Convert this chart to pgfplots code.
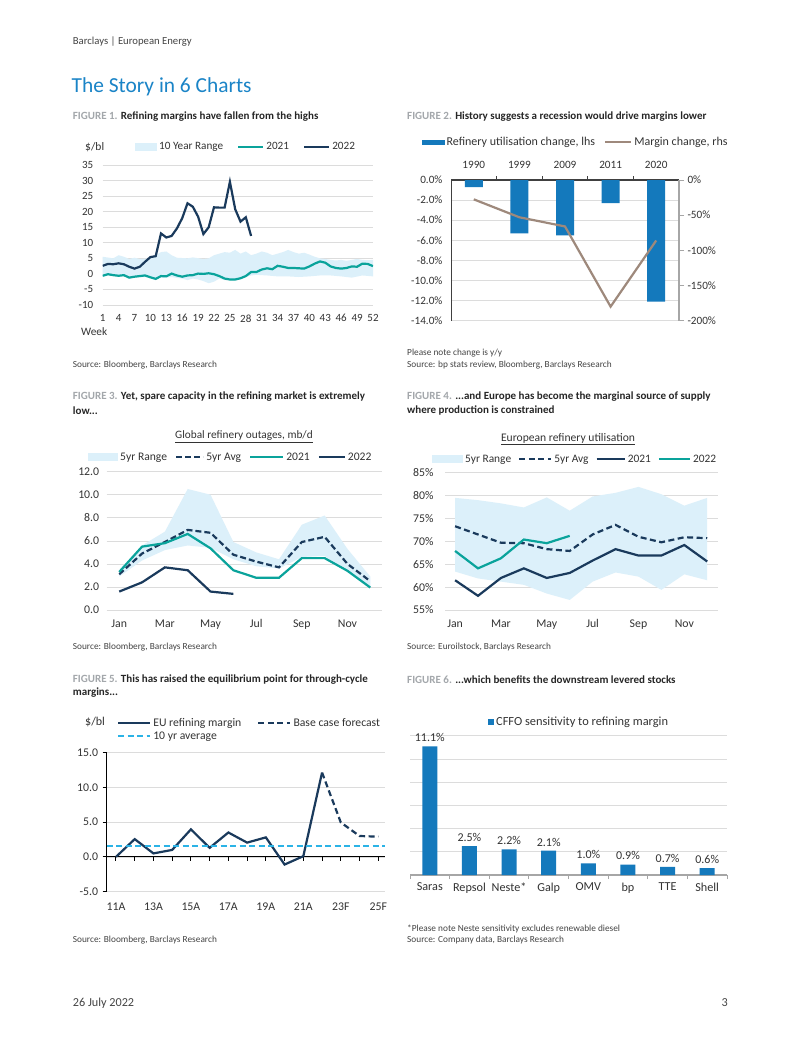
\documentclass[border=0pt]{standalone}
\usepackage{fontspec}
\setmainfont{Carlito}
\usepackage{pgfplots}
\pgfplotsset{compat=1.18}
\usepackage{pgfplotstable}

\definecolor{navy}{HTML}{1A3A5C}
\definecolor{teal}{HTML}{0AA39B}
\definecolor{rangec}{HTML}{DCF0FA}
\definecolor{barc}{HTML}{1479BC}
\definecolor{brownc}{HTML}{9E897C}
\definecolor{ltblue}{HTML}{2BB3E6}
\definecolor{titleblue}{HTML}{1A84C7}
\definecolor{capgray}{HTML}{A3A7AB}
\definecolor{captext}{HTML}{262626}
\definecolor{tickc}{HTML}{333333}
\definecolor{gridc}{HTML}{DCDCDC}
\definecolor{axgray}{HTML}{A6A6A6}
\definecolor{axdark}{HTML}{404040}
\definecolor{srcc}{HTML}{444444}

\newcommand{\fs}[1]{\fontsize{#1bp}{\dimexpr #1bp*12/10\relax}\selectfont}

\pgfplotsset{
  base/.style={scale only axis, anchor=south west,
    axis line style={draw=none}, major tick length=0pt,
    ymajorgrids, grid style={gridc, line width=0.7bp},
    tick label style={font=\fs{11.3}, text=tickc},
    /pgf/number format/assume math mode=true,
    legend style={draw=none, fill=none, inner sep=0pt, legend columns=-1,
      font=\fs{11.5}, text=tickc,
      /tikz/every even column/.append style={column sep=14bp}},
    legend cell align=left},
  lineLeg/.style={legend image code/.code={\draw[##1] (0bp,0bp) -- (#1,0bp);}},
  areaLeg/.style 2 args={legend image code/.code={\fill[##1] (0bp,-#2) rectangle (#1,#2);}},
}

% ---------- data ----------
\pgfplotstableread{
w v
1 2.6
2 3.2
3 3.1
4 3.4
5 3.1
6 2.3
7 1.7
8 2.3
9 3.9
10 5.4
11 5.7
12 13.0
13 11.7
14 12.2
15 14.6
16 17.9
17 22.7
18 21.6
19 18.4
20 12.8
21 15.0
22 21.4
23 21.3
24 21.3
25 29.6
26 20.8
27 16.8
28 18.2
29 12.2
}\figAtwoo
\pgfplotstableread{
w v
1 -0.6
2 -0.1
3 -0.4
4 -0.6
5 -0.4
6 -1.2
7 -0.9
8 -0.7
9 -0.5
10 -1.1
11 -1.6
12 -0.7
13 -0.8
14 0.1
15 -0.5
16 -0.9
17 -0.5
18 -0.4
19 0.1
20 0.0
21 0.2
22 -0.1
23 -0.7
24 -1.5
25 -1.8
26 -1.8
27 -1.4
28 -0.7
29 0.6
30 0.6
31 1.4
32 1.8
33 1.5
34 2.6
35 2.3
36 1.9
37 1.9
38 1.8
39 1.7
40 2.4
41 3.3
42 4.0
43 3.6
44 2.4
45 1.9
46 1.7
47 1.9
48 2.4
49 2.3
50 3.3
51 3.2
52 2.5
}\figAtwoa
\pgfplotstableread{
w v
1 5.5
3 5.0
4 6.0
5 5.5
6 4.8
7 5.2
8 4.8
10 5.0
11 6.0
12 7.0
13 7.2
14 6.0
15 5.2
17 5.0
18 5.3
20 4.8
21 5.0
22 6.0
23 6.5
24 7.0
25 6.8
26 7.7
27 6.5
28 7.2
29 6.0
30 6.5
31 7.2
32 6.8
33 6.0
34 6.5
35 7.0
36 7.7
37 7.0
38 6.5
39 6.8
40 6.2
41 5.5
42 5.0
43 4.8
44 4.5
45 4.3
46 4.5
47 4.2
48 4.5
49 4.8
50 4.5
51 4.4
52 4.5
52 -0.8
50 -0.5
48 -1.2
46 -0.8
44 -0.5
42 -0.5
40 -0.8
38 -1.0
36 -0.8
34 -0.8
32 -0.5
30 -0.3
29 -0.5
28 -1.0
27 -1.8
26 -2.0
25 -2.0
24 -2.0
23 -1.5
22 -2.5
21 -3.0
20 -2.3
19 -1.8
18 -1.5
17 -2.0
16 -1.5
15 -1.3
14 -1.0
13 -1.2
12 -1.2
11 -1.8
10 -1.3
9 -1.0
8 -1.0
7 -1.2
6 -1.4
5 -0.8
4 -0.8
3 -0.7
2 -0.5
1 -0.8
}\figArange

\pgfplotstableread{
x util margin
0 -0.7 -27.5
1 -5.3 -53
2 -5.5 -66
3 -2.3 -180
4 -12.1 -86
}\figB

\pgfplotstableread{
m avg y21
1 3.1 3.3
2 4.9 5.5
3 5.9 5.8
4 6.95 6.6
5 6.7 5.35
6 4.8 3.45
7 4.2 2.8
8 3.7 2.8
9 5.9 4.5
10 6.35 4.5
11 4.0 3.4
12 2.5 1.95
}\figC
\pgfplotstableread{
m v
1 1.6
2 2.4
3 3.7
4 3.45
5 1.6
6 1.4
}\figCtwoo
\pgfplotstableread{
m v
1 3.5
2 5.6
3 6.8
4 10.5
5 10.0
6 5.9
7 5.0
8 4.4
9 7.4
10 8.2
11 5.3
12 2.9
12 2.0
11 3.3
10 4.7
9 4.6
8 3.6
7 3.8
6 4.4
5 5.4
4 5.6
3 5.2
2 4.3
1 2.9
}\figCrange

\pgfplotstableread{
m avg y21
1 73.3 61.5
2 71.5 58.1
3 69.7 62.0
4 69.6 64.1
5 68.3 62.0
6 67.9 63.1
7 71.5 65.8
8 73.6 68.3
9 71.0 66.9
10 69.8 66.9
11 70.9 69.2
12 70.7 65.6
}\figD
\pgfplotstableread{
m v
1 67.9
2 64.1
3 66.3
4 70.4
5 69.6
6 71.2
}\figDtwoo
\pgfplotstableread{
m v
1 79.5
2 79.0
3 78.3
4 77.4
5 79.6
6 76.7
7 79.8
8 80.6
9 81.9
10 80.3
11 77.8
12 79.5
12 61.5
11 62.8
10 59.4
9 62.3
8 63.2
7 61.2
6 57.2
5 58.6
4 60.5
3 61.2
2 61.9
1 63.4
}\figDrange

\pgfplotstableread{
x v
0 0.0
1 2.55
2 0.5
3 1.0
4 3.95
5 1.3
6 3.5
7 2.05
8 2.8
9 -1.1
10 0.1
11 12.1
}\figEact
\pgfplotstableread{
x v
11 12.1
12 4.95
13 3.0
14 2.9
}\figEfc
\pgfplotstableread{
x v
-0.5 1.6
14.36 1.6
}\figEavg

\pgfplotstableread{
x v
0 11.1
1 2.5
2 2.2
3 2.1
4 1.0
5 0.9
6 0.7
7 0.6
}\figF

\begin{document}
\begin{tikzpicture}
\useasboundingbox (0,0) rectangle (802bp,-1037bp);
\fill[white] (0,0) rectangle (802bp,-1037bp);

% ---------- page text ----------
\node[anchor=west,inner sep=0,text=srcc] at (72.7bp,-41.7bp) {\fs{10.7}Barclays | European Energy};
\node[anchor=west,inner sep=0,text=titleblue] at (71.5bp,-86.7bp) {\fs{21.4}The Story in 6 Charts};
\node[anchor=west,inner sep=0] at (72.7bp,-117bp) {\fs{11}\bfseries\color{capgray}FIGURE 1. \color{captext}Refining margins have fallen from the highs};
\node[anchor=west,inner sep=0] at (407bp,-117bp) {\fs{11}\bfseries\color{capgray}FIGURE 2. \color{captext}History suggests a recession would drive margins lower};
\node[anchor=west,inner sep=0,text=srcc] at (72.7bp,-365bp) {\fs{9.3}Source: Bloomberg, Barclays Research};
\node[anchor=west,inner sep=0,text=srcc] at (407bp,-353bp) {\fs{9.3}Please note change is y/y};
\node[anchor=west,inner sep=0,text=srcc] at (407bp,-365bp) {\fs{9.3}Source: bp stats review, Bloomberg, Barclays Research};

\node[anchor=west,inner sep=0] at (72.7bp,-397bp) {\fs{11}\bfseries\color{capgray}FIGURE 3. \color{captext}Yet, spare capacity in the refining market is extremely};
\node[anchor=west,inner sep=0] at (72.7bp,-410.5bp) {\fs{11}\bfseries\color{captext}low...};
\node[anchor=west,inner sep=0] at (407bp,-397bp) {\fs{11}\bfseries\color{capgray}FIGURE 4. \color{captext}...and Europe has become the marginal source of supply};
\node[anchor=west,inner sep=0] at (407bp,-410.5bp) {\fs{11}\bfseries\color{captext}where production is constrained};
\node[text=tickc,inner sep=0] at (244bp,-436.7bp) {\fs{11.3}\underline{Global refinery outages, mb/d}};
\node[text=tickc,inner sep=0] at (568bp,-439bp) {\fs{11.6}\underline{European refinery utilisation}};
\node[anchor=west,inner sep=0,text=srcc] at (72.7bp,-647bp) {\fs{9.3}Source: Bloomberg, Barclays Research};
\node[anchor=west,inner sep=0,text=srcc] at (407bp,-647bp) {\fs{9.3}Source: Euroilstock, Barclays Research};

\node[anchor=west,inner sep=0] at (72.7bp,-679.3bp) {\fs{11}\bfseries\color{capgray}FIGURE 5. \color{captext}This has raised the equilibrium point for through-cycle};
\node[anchor=west,inner sep=0] at (72.7bp,-692.7bp) {\fs{11}\bfseries\color{captext}margins...};
\node[anchor=west,inner sep=0] at (407bp,-679.3bp) {\fs{11}\bfseries\color{capgray}FIGURE 6. \color{captext}...which benefits the downstream levered stocks};
\node[anchor=west,inner sep=0,text=srcc] at (72.7bp,-940bp) {\fs{9.3}Source: Bloomberg, Barclays Research};
\node[anchor=west,inner sep=0,text=srcc] at (407bp,-928.5bp) {\fs{9.3}*Please note Neste sensitivity excludes renewable diesel};
\node[anchor=west,inner sep=0,text=srcc] at (407bp,-940bp) {\fs{9.3}Source: Company data, Barclays Research};
\node[anchor=west,inner sep=0,text=srcc] at (72.7bp,-1003bp) {\fs{12.2}26 July 2022};
\node[anchor=east,inner sep=0,text=srcc] at (728bp,-1003bp) {\fs{12.2}3};

\node[anchor=west,inner sep=0,text=tickc] at (85bp,-146.7bp) {\fs{11.5}\$/bl};
\node[anchor=west,inner sep=0,text=tickc] at (81bp,-332bp) {\fs{11.3}Week};
\node[anchor=west,inner sep=0,text=tickc] at (85bp,-721.7bp) {\fs{12}\$/bl};

% ---------- Figure 1 ----------
\begin{axis}[base, at={(102.7bp,-305bp)}, width=270.3bp, height=140bp,
  xmin=1, xmax=52, ymin=-10, ymax=35,
  tick label style={font=\fs{11}},
  xtick={1,4,...,52}, ytick={-10,-5,...,35},
  yticklabel style={xshift=-6bp}, xticklabel style={yshift=-6bp},
  legend style={at={(axis description cs:0.1195,1.1286)}, anchor=west, font=\fs{11.2},
    /tikz/every even column/.append style={column sep=12bp}}]
\addplot[fill=rangec, draw=none, areaLeg={22bp}{4bp}] table[x=w,y=v] {\figArange};
\addlegendentry{10 Year Range}
\addplot[teal, line width=2.2bp, lineLeg=25bp] table[x=w,y=v] {\figAtwoa};
\addlegendentry{2021}
\addplot[navy, line width=2.2bp, lineLeg=25bp] table[x=w,y=v] {\figAtwoo};
\addlegendentry{2022}
\end{axis}

% ---------- Figure 2 ----------
\begin{axis}[base, at={(451bp,-320.7bp)}, width=228bp, height=140.7bp,
  xmin=-0.5, xmax=4.5, ymin=-14, ymax=0,
  tick label style={font=\fs{11.2}},
  axis x line*=top, axis y line*=left,
  x axis line style={draw=axdark, line width=1.8bp},
  y axis line style={draw=axdark, line width=1bp},
  xtick={0,...,4}, xticklabels={1990,1999,2009,2011,2020},
  xticklabel style={yshift=8bp},
  minor xtick={0.5,1.5,2.5,3.5}, minor tick length=4bp,
  minor x tick style={draw=axdark, line width=1.2bp},
  ytick={-14,-12,...,0},
  yticklabel={\pgfmathprintnumber[fixed,fixed zerofill,precision=1]{\tick}\%},
  yticklabel style={xshift=-5bp},
  ybar, bar width=18bp]
\addplot[fill=barc, draw=none] table[x=x,y=util] {\figB};
\end{axis}
\begin{axis}[base, at={(451bp,-320.7bp)}, width=228bp, height=140.7bp,
  xmin=-0.5, xmax=4.5, ymin=-200, ymax=0, ymajorgrids=false,
  tick label style={font=\fs{11.2}},
  axis x line=none, axis y line*=right,
  y axis line style={draw=axgray, line width=1.8bp},
  tick align=outside, major tick length=5bp,
  ytick style={draw=axgray, line width=1bp},
  ytick={-200,-150,...,0},
  yticklabel={\pgfmathprintnumber{\tick}\%},
  legend style={at={(axis description cs:-0.127,1.27)}, anchor=west, font=\fs{12},
    /tikz/every even column/.append style={column sep=7bp}}]
\addlegendimage{legend image code/.code={\fill[barc] (0bp,-2.3bp) rectangle (22bp,2.3bp);}}
\addlegendentry{Refinery utilisation change, lhs}
\addplot[brownc, line width=2.2bp, lineLeg=26bp] table[x=x,y=margin] {\figB};
\addlegendentry{Margin change, rhs}
\end{axis}

% ---------- Figure 3 ----------
\begin{axis}[base, at={(106.7bp,-610bp)}, width=275bp, height=138.3bp,
  xmin=0.45, xmax=12.5, ymin=0, ymax=12,
  tick label style={font=\fs{11.8}},
  xtick={1,3,5,7,9,11}, xticklabels={Jan,Mar,May,Jul,Sep,Nov},
  ytick={0,2,...,12},
  yticklabel={\pgfmathprintnumber[fixed,fixed zerofill,precision=1]{\tick}},
  yticklabel style={xshift=-4bp}, xticklabel style={yshift=-6bp},
  legend style={at={(axis description cs:-0.068,1.106)}, anchor=west, font=\fs{11.6},
    /tikz/every even column/.append style={column sep=6bp}}]
\addplot[fill=rangec, draw=none, areaLeg={30bp}{4bp}] table[x=m,y=v] {\figCrange};
\addlegendentry{5yr Range}
\addplot[navy, line width=2.2bp, dash pattern=on 6bp off 3bp, lineLeg=27bp] table[x=m,y=avg] {\figC};
\addlegendentry{5yr Avg}
\addplot[teal, line width=2.2bp, lineLeg=33bp] table[x=m,y=y21] {\figC};
\addlegendentry{2021}
\addplot[navy, line width=2.2bp, lineLeg=26bp] table[x=m,y=v] {\figCtwoo};
\addlegendentry{2022}
\end{axis}

% ---------- Figure 4 ----------
\begin{axis}[base, at={(445bp,-610bp)}, width=273bp, height=137.3bp,
  xmin=0.56, xmax=12.47, ymin=55, ymax=85,
  tick label style={font=\fs{11.8}},
  xtick={1,3,5,7,9,11}, xticklabels={Jan,Mar,May,Jul,Sep,Nov},
  ytick={55,60,...,85},
  yticklabel={\pgfmathprintnumber{\tick}\%},
  yticklabel style={xshift=-8bp}, xticklabel style={yshift=-6bp},
  legend style={at={(axis description cs:-0.048,1.0976)}, anchor=west, font=\fs{11.4},
    /tikz/every even column/.append style={column sep=5bp}}]
\addplot[fill=rangec, draw=none, areaLeg={31bp}{4bp}] table[x=m,y=v] {\figDrange};
\addlegendentry{5yr Range}
\addplot[navy, line width=2.2bp, dash pattern=on 6bp off 3.5bp, lineLeg=32bp] table[x=m,y=avg] {\figD};
\addlegendentry{5yr Avg}
\addplot[navy, line width=2.2bp, lineLeg=28bp] table[x=m,y=y21] {\figD};
\addlegendentry{2021}
\addplot[teal, line width=2.2bp, lineLeg=31bp] table[x=m,y=v] {\figDtwoo};
\addlegendentry{2022}
\end{axis}

% ---------- Figure 5 ----------
\begin{axis}[base, at={(106.6bp,-891.7bp)}, width=278.4bp, height=139.3bp,
  xmin=-0.5, xmax=14.36, ymin=-5, ymax=15,
  tick label style={font=\fs{11.8}},
  axis x line=middle, axis y line=left,
  hide obscured x ticks=false, hide obscured y ticks=false,
  x axis line style={-, draw=black, line width=1.2bp},
  y axis line style={-, draw=black, line width=1.2bp},
  tick align=outside, major tick length=4bp,
  xtick style={draw=black, line width=1bp}, ytick style={draw=black, line width=1bp},
  xtick={0,...,14}, xticklabels={11A,,13A,,15A,,17A,,19A,,21A,,23F,,25F},
  ytick={-5,0,...,15},
  yticklabel={\pgfmathprintnumber[fixed,fixed zerofill,precision=1]{\tick}},
  yticklabel style={xshift=-1bp}, xticklabel style={anchor=north, yshift=-38bp},
  legend columns=2,
  legend style={at={(axis description cs:0.037,1.263)}, anchor=north west, font=\fs{11.7},
    /tikz/every even column/.append style={column sep=14bp},
    /tikz/every row/.append style={row sep=1bp}}]
\addplot[navy, line width=2.2bp, lineLeg=32bp] table[x=x,y=v] {\figEact};
\addlegendentry{EU refining margin}
\addplot[navy, line width=2.2bp, dash pattern=on 6bp off 3.5bp, lineLeg=32bp] table[x=x,y=v] {\figEfc};
\addlegendentry{Base case forecast}
\addplot[ltblue, line width=1.6bp, dash pattern=on 6bp off 3.5bp, lineLeg=32bp] table[x=x,y=v] {\figEavg};
\addlegendentry{10 yr average}
\end{axis}

% ---------- Figure 6 ----------
\begin{axis}[base, at={(410bp,-875bp)}, width=317bp, height=139.2bp,
  xmin=-0.5, xmax=7.5, ymin=0, ymax=12,
  tick label style={font=\fs{12.2}},
  axis x line*=bottom, x axis line style={draw=axgray, line width=1.5bp},
  xtick={0,...,7}, xticklabels={Saras,Repsol,Neste*,Galp,OMV,bp,TTE,Shell},
  minor xtick={-0.5,0.5,...,7.5}, minor tick length=4bp, tick align=outside,
  minor x tick style={draw=axgray, line width=1bp},
  ytick={2,4,...,12}, yticklabels={},
  xticklabel style={yshift=-4bp},
  ybar, bar width=15bp, clip=false,
  nodes near coords={\pgfmathprintnumber[fixed,fixed zerofill,precision=1]{\pgfplotspointmeta}\%},
  nodes near coords style={font=\fs{12}, text=tickc, yshift=1bp},
  legend style={at={(axis description cs:0.246,1.099)}, anchor=west, font=\fs{12.4}}]
\addplot[fill=barc, draw=none, areaLeg={6bp}{3bp}] table[x=x,y=v] {\figF};
\addlegendentry{CFFO sensitivity to refining margin}
\end{axis}

\end{tikzpicture}
\end{document}
